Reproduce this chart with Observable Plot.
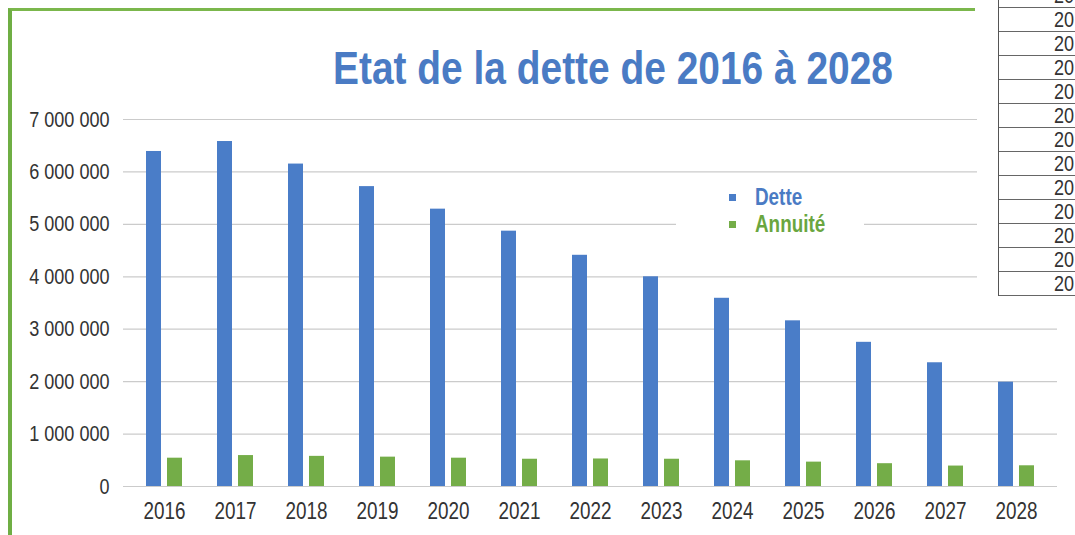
<!DOCTYPE html>
<html>
<head>
<meta charset="utf-8">
<script src="https://cdn.jsdelivr.net/npm/d3@7"></script>
<script src="https://cdn.jsdelivr.net/npm/@observablehq/plot@0.6"></script>
<style>
  html, body { margin: 0; padding: 0; background: #fff; }
  #page { position: relative; width: 1075px; height: 535px; overflow: hidden; background: #fff; }
  #title { position: absolute; left: 0; top: 0; width: 1075px; height: 100px; }
  #title span { position: absolute; left: 616px; top: 42px; white-space: nowrap; font-weight: bold; font-size: 47px; line-height: 52px; color: #4a7bc4; transform-origin: 0 0; }
  #chart { position: absolute; left: 0; top: 100px; }
  #legend { position: absolute; left: 676px; top: 183px; width: 188px; height: 58px; background: #fff; }
  .lg { position: absolute; left: 79px; white-space: nowrap; font-weight: bold; font-size: 23px; line-height: 26px; transform-origin: 0 50%; }
  .sw { position: absolute; left: 53px; width: 7px; height: 7px; }
  #border { position: absolute; left: 8px; top: 8px; width: 967px; height: 600px; border-top: 3px solid #7bb74c; border-left: 4px solid #6fae44; box-sizing: border-box; }
  #tablewrap { position: absolute; left: 977px; top: 0; width: 98px; height: 297px; background: #fff; }
  #tbl { position: absolute; left: 21px; top: -16px; width: 140px; border-left: 1.5px solid #555; }
  .row { position: relative; height: 23px; border-bottom: 1.5px solid #666; box-sizing: content-box; }
  .row span { position: absolute; left: 55px; top: 0px; font-size: 22px; line-height: 24px; color: #333; transform-origin: 0 50%; }
</style>
</head>
<body>
<div id="page">
  <div id="border"></div>
  <div id="title"><span id="titletext">Etat de la dette de 2016 à 2028</span></div>
  <div id="chart"></div>
  <div id="legend"></div>
  <div id="tablewrap"><div id="tbl"></div></div>
</div>
<script>
// ---- data ----
const years = ["2016", "2017", "2018", "2019", "2020", "2021", "2022", "2023", "2024", "2025", "2026", "2027", "2028"];
const dette = [6390000, 6580000, 6150000, 5720000, 5290000, 4870000, 4410000, 4000000, 3590000, 3160000, 2750000, 2360000, 1990000];
const annuite = [540000, 590000, 575000, 560000, 540000, 520000, 525000, 520000, 490000, 465000, 435000, 390000, 395000];
const seriesNames = ["Dette", "Annuité"];
const yTicks = [0, 1000000, 2000000, 3000000, 4000000, 5000000, 6000000, 7000000];
const titleText = "Etat de la dette de 2016 à 2028";
// side table of the photo: only the first two digits of each year are visible
const tableLabels = ["20", "20", "20", "20", "20", "20", "20", "20", "20", "20", "20", "20", "20"];

const BLUE = "#4a7dc8";
const GREEN = "#74ad48";

// font detection: prefer a narrow sans (chart was drawn in a narrow Arial)
function fontAvailable(name) {
  const c = document.createElement("canvas").getContext("2d");
  const s = "Annuité 7 000 000 2016";
  c.font = "20px monospace";
  const w1 = c.measureText(s).width;
  c.font = `20px "${name}", monospace`;
  const w2 = c.measureText(s).width;
  return Math.abs(w1 - w2) > 0.5;
}
const narrow = fontAvailable("Liberation Sans Narrow");
const FONT = narrow ? '"Liberation Sans Narrow", "Arial Narrow", sans-serif' : '"Liberation Sans", Arial, sans-serif';
const SQUEEZE = narrow ? 1 : 0.82;
document.getElementById("page").style.fontFamily = FONT;

// ---- table (tidy) ----
const data = years.map((y, i) => ({year: y, dette: dette[i], annuite: annuite[i]}));

const fmtLocale = d3.formatLocale({decimal: ",", thousands: "\u00a0", grouping: [3], currency: ["", " €"]});
const fmt = fmtLocale.format(",.0f");

const chart = Plot.plot({
  width: 1075,
  height: 435,
  marginTop: 19,
  marginBottom: 49,
  marginLeft: 123,
  marginRight: 18,
  style: {fontFamily: FONT, fontSize: "21px", color: "#333", background: "transparent"},
  x: {domain: years, paddingInner: 0.5, paddingOuter: 0.254, label: null},
  y: {domain: [0, 7000000], label: null},
  marks: [
    Plot.ruleY(yTicks, {stroke: "#cbcbcb", strokeWidth: 1.2}),
    Plot.barY(data, {x: "year", y: "dette", fill: BLUE, insetLeft: 0, insetRight: 21}),
    Plot.barY(data, {x: "year", y: "annuite", fill: GREEN, insetLeft: 21, insetRight: 0}),
    Plot.axisY({ticks: yTicks, tickFormat: fmt, tickSize: 0, tickPadding: 14, fontSize: 22, label: null}),
    Plot.axisX({tickSize: 0, tickPadding: 16, fontSize: 23, label: null})
  ]
});
document.getElementById("chart").appendChild(chart);

// condense SVG text if no narrow font is installed
if (SQUEEZE !== 1) {
  chart.querySelectorAll("text").forEach(t => {
    const L = t.getComputedTextLength();
    t.setAttribute("textLength", (L * SQUEEZE).toFixed(1));
    t.setAttribute("lengthAdjust", "spacingAndGlyphs");
  });
}

// ---- title ----
const tt = document.getElementById("titletext");
tt.textContent = titleText;
{
  const w = tt.getBoundingClientRect().width;
  const target = 560;
  const sx = target / w;
  tt.style.transform = `scaleX(${sx})`;
  tt.style.left = (613 - target / 2) + "px";
}

// ---- legend ----
const legend = document.getElementById("legend");
const colors = [BLUE, GREEN];
const lgTops = [1, 28];
seriesNames.forEach((name, i) => {
  const sw = document.createElement("div");
  sw.className = "sw";
  sw.style.background = colors[i];
  sw.style.top = (lgTops[i] + 10) + "px";
  legend.appendChild(sw);
  const t = document.createElement("div");
  t.className = "lg";
  t.style.top = lgTops[i] + "px";
  t.style.color = i === 0 ? "#4a7bc4" : "#6aa63f";
  t.textContent = name;
  t.style.transform = `scaleX(${SQUEEZE})`;
  legend.appendChild(t);
});

// ---- side table (partially visible in the photo) ----
const tbl = document.getElementById("tbl");
tableLabels.forEach(y => {
  const r = document.createElement("div");
  r.className = "row";
  const s = document.createElement("span");
  s.textContent = y;
  s.style.transform = `scaleX(${SQUEEZE})`;
  r.appendChild(s);
  tbl.appendChild(r);
});
</script>
</body>
</html>
